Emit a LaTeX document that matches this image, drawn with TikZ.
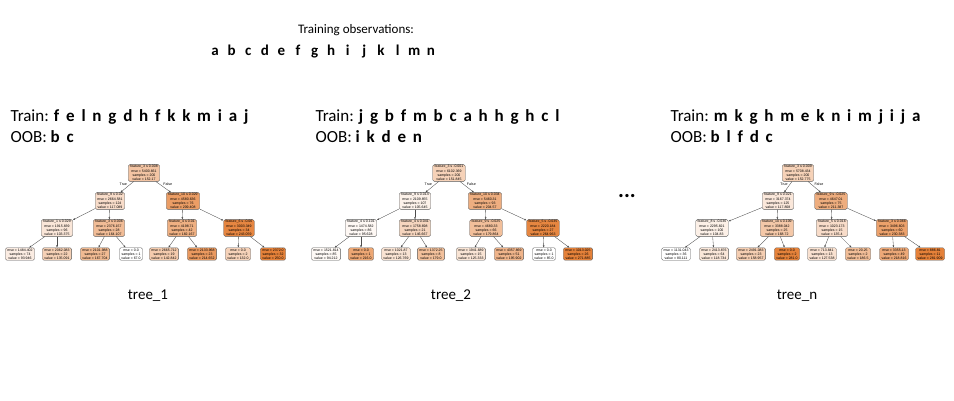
\documentclass[tikz,border=0pt]{standalone}
\usepackage{fontspec}
\setmainfont{Carlito}
\newfontfamily\treefont{Liberation Sans}
\usetikzlibrary{arrows.meta}
\definecolor{treeorange}{RGB}{229,129,57}
\newcommand{\obsl}[1]{{\bfseries\spaceskip=6.8pt\relax #1}}
\tikzset{
tnode/.style = {draw=black!65, line width=0.3pt, rounded corners=1.5pt,
                fill=treeorange!#1!white, align=center, inner xsep=2pt, inner ysep=0.8pt,
                font=\treefont\fontsize{3.5}{4.2}\selectfont},
tedge/.style = {-{Latex[length=2.2pt,width=1.8pt]}, draw=black!70, line width=0.35pt},
tlab/.style  = {font=\treefont\fontsize{3.6}{4}\selectfont, inner sep=0.5pt},
trainlbl/.style = {anchor=west, font=\fontsize{17}{20}\selectfont},
treename/.style = {font=\fontsize{15}{17}\selectfont}
}

\begin{document}
\begin{tikzpicture}[x=1pt,y=-1pt]
        \useasboundingbox (0,0) rectangle (954,400);

        % observations
        \node[font=\fontsize{13}{15}\selectfont] (title) at (356,30) {Training observations:};
        \foreach \l [count=\i from 0] in {a,b,c,d,e,f,g,h,i,j,k,l,m,n}
            \node[anchor=base, font=\bfseries\fontsize{15}{17}\selectfont] (obs-\l) at (215+16.6*\i,55) {\l};

        \node[trainlbl] (train1) at (7,117) {Train: \obsl{f e l n g d h f k k m i a j}};
        \node[trainlbl] (oob1) at (7,137) {OOB: \obsl{b c}};
        \node[trainlbl] (train2) at (312,117) {Train: \obsl{j g b f m b c a h h g h c l}};
        \node[trainlbl] (oob2) at (312,137) {OOB: \obsl{i k d e n}};
        \node[trainlbl] (train3) at (667,117) {Train: \obsl{m k g h m e k n i m j i j a}};
        \node[trainlbl] (oob3) at (667,137) {OOB: \obsl{b l f d c}};

        % tree 1
        \node[tnode=46.5] (r1) at (144,173) {feature\_3 ≤ 0.008\\mse = 5400.661\\samples = 200\\value = 152.17};
        \node[tnode=27.4] (a1) at (110,201) {feature\_9 ≤ 0.02\\mse = 2664.581\\samples = 124\\value = 117.089};
        \node[tnode=77.8] (b1) at (183,201) {feature\_10 ≤ 0.029\\mse = 4580.636\\samples = 76\\value = 209.408};
        \node[tnode=19.9] (aa1) at (57,228) {feature\_1 ≤ 0.029\\mse = 1915.839\\samples = 96\\value = 103.375};
        \node[tnode=53.1] (ab1) at (109,228) {feature\_3 ≤ 0.006\\mse = 2376.157\\samples = 28\\value = 164.107};
        \node[tnode=62.9] (ba1) at (182,228) {feature\_4 ≤ 0.01\\mse = 4198.71\\samples = 42\\value = 182.167};
        \node[tnode=96.2] (bb1) at (239,228) {feature\_6 ≤ -0.06\\mse = 3003.349\\samples = 34\\value = 243.059};
        \node[tnode=14.7] (l11) at (20,254) {mse = 1484.402\\samples = 74\\value = 93.946};
        \node[tnode=37.2] (l12) at (57,254) {mse = 2062.083\\samples = 22\\value = 135.091};
        \node[tnode=55.0] (l13) at (95,254) {mse = 2101.988\\samples = 27\\value = 167.704};
        \node[tnode=0] (l14) at (131,254) {mse = 0.0\\samples = 1\\value = 67.0};
        \node[tnode=41.4] (l15) at (164,254) {mse = 2665.712\\samples = 19\\value = 142.842};
        \node[tnode=80.7] (l16) at (202,254) {mse = 2133.968\\samples = 23\\value = 214.652};
        \node[tnode=35.5] (l17) at (238,254) {mse = 0.0\\samples = 2\\value = 132.0};
        \node[tnode=100] (l18) at (273,254) {mse = 2372.0\\samples = 32\\value = 250.0};
        \node[treename] (name1) at (148,296) {tree\_1};

        \path
        (r1) edge[tedge] node[tlab, pos=0.45, above left] {True} (a1)
        (r1) edge[tedge] node[tlab, pos=0.45, above right] {False} (b1)
        (a1) edge[tedge] (aa1)
        (a1) edge[tedge] (ab1)
        (b1) edge[tedge] (ba1)
        (b1) edge[tedge] (bb1)
        (aa1) edge[tedge] (l11)
        (aa1) edge[tedge] (l12)
        (ab1) edge[tedge] (l13)
        (ab1) edge[tedge] (l14)
        (ba1) edge[tedge] (l15)
        (ba1) edge[tedge] (l16)
        (bb1) edge[tedge] (l17)
        (bb1) edge[tedge] (l18);

        % tree 2
        \node[tnode=35.8] (r2) at (449,173) {feature\_3 ≤ -0.001\\mse = 6102.369\\samples = 200\\value = 151.845};
        \node[tnode=11.0] (a2) at (415,201) {feature\_9 ≤ 0.014\\mse = 2109.855\\samples = 107\\value = 105.645};
        \node[tnode=64.0] (b2) at (485,201) {feature\_10 ≤ 0.034\\mse = 5460.31\\samples = 93\\value = 204.57};
        \node[tnode=5.7] (aa2) at (361,228) {feature\_4 ≤ 0.101\\mse = 1474.582\\samples = 86\\value = 95.628};
        \node[tnode=33.0] (ab2) at (415,228) {feature\_4 ≤ 0.041\\mse = 1758.698\\samples = 21\\value = 146.667};
        \node[tnode=50.8] (ba2) at (486,228) {feature\_9 ≤ -0.025\\mse = 4680.33\\samples = 66\\value = 179.864};
        \node[tnode=96.3] (bb2) at (543,228) {feature\_5 ≤ -0.035\\mse = 2220.184\\samples = 27\\value = 264.963};
        \node[tnode=4.9] (l21) at (326,254) {mse = 1521.814\\samples = 85\\value = 94.212};
        \node[tnode=70.1] (l22) at (361,254) {mse = 0.0\\samples = 1\\value = 216.0};
        \node[tnode=22.3] (l23) at (396,254) {mse = 1021.87\\samples = 13\\value = 126.769};
        \node[tnode=50.3] (l24) at (431,254) {mse = 1372.25\\samples = 8\\value = 179.0};
        \node[tnode=21.6] (l25) at (471,254) {mse = 1941.689\\samples = 15\\value = 125.333};
        \node[tnode=59.3] (l26) at (509,254) {mse = 4357.869\\samples = 51\\value = 195.902};
        \node[tnode=0] (l27) at (544,254) {mse = 0.0\\samples = 1\\value = 85.0};
        \node[tnode=100] (l28) at (578,254) {mse = 1013.025\\samples = 26\\value = 271.885};
        \node[treename] (name2) at (451,296) {tree\_2};

        \path
        (r2) edge[tedge] node[tlab, pos=0.45, above left] {True} (a2)
        (r2) edge[tedge] node[tlab, pos=0.45, above right] {False} (b2)
        (a2) edge[tedge] (aa2)
        (a2) edge[tedge] (ab2)
        (b2) edge[tedge] (ba2)
        (b2) edge[tedge] (bb2)
        (aa2) edge[tedge] (l21)
        (aa2) edge[tedge] (l22)
        (ab2) edge[tedge] (l23)
        (ab2) edge[tedge] (l24)
        (ba2) edge[tedge] (l25)
        (ba2) edge[tedge] (l26)
        (bb2) edge[tedge] (l27)
        (bb2) edge[tedge] (l28);

        \node[font=\bfseries\fontsize{22}{22}\selectfont] (dots) at (627,196) {...};

        % tree n
        \node[tnode=36.0] (r3) at (798,173) {feature\_3 ≤ 0.009\\mse = 5708.434\\samples = 200\\value = 152.775};
        \node[tnode=18.7] (a3) at (778,201) {feature\_9 ≤ 0.021\\mse = 3167.374\\samples = 125\\value = 117.808};
        \node[tnode=65.1] (b3) at (831,201) {feature\_9 ≤ -0.025\\mse = 4647.01\\samples = 75\\value = 211.387};
        \node[tnode=12.2] (aa3) at (712,228) {feature\_8 ≤ -0.036\\mse = 2295.821\\samples = 100\\value = 104.83};
        \node[tnode=43.9] (ab3) at (777,228) {feature\_10 ≤ 0.109\\mse = 3388.042\\samples = 25\\value = 168.72};
        \node[tnode=27.4] (ba3) at (832,228) {feature\_5 ≤ 0.016\\mse = 1023.173\\samples = 15\\value = 135.4};
        \node[tnode=74.5] (bb3) at (892,228) {feature\_3 ≤ 0.066\\mse = 3496.603\\samples = 60\\value = 230.383};
        \node[tnode=0] (l31) at (676,254) {mse = 1131.043\\samples = 36\\value = 80.111};
        \node[tnode=19.1] (l32) at (714,254) {mse = 2413.876\\samples = 64\\value = 118.734};
        \node[tnode=39.1] (l33) at (751,254) {mse = 2491.083\\samples = 23\\value = 158.957};
        \node[tnode=99.5] (l34) at (787,254) {mse = 0.0\\samples = 2\\value = 281.0};
        \node[tnode=23.5] (l35) at (822,254) {mse = 713.841\\samples = 13\\value = 127.538};
        \node[tnode=52.7] (l36) at (858,254) {mse = 20.25\\samples = 2\\value = 186.5};
        \node[tnode=68.7] (l37) at (894,254) {mse = 3355.13\\samples = 49\\value = 218.816};
        \node[tnode=100] (l38) at (930,254) {mse = 886.81\\samples = 11\\value = 281.909};
        \node[treename] (name3) at (797,296) {tree\_n};

        \path
        (r3) edge[tedge] node[tlab, pos=0.45, above left] {True} (a3)
        (r3) edge[tedge] node[tlab, pos=0.45, above right] {False} (b3)
        (a3) edge[tedge] (aa3)
        (a3) edge[tedge] (ab3)
        (b3) edge[tedge] (ba3)
        (b3) edge[tedge] (bb3)
        (aa3) edge[tedge] (l31)
        (aa3) edge[tedge] (l32)
        (ab3) edge[tedge] (l33)
        (ab3) edge[tedge] (l34)
        (ba3) edge[tedge] (l35)
        (ba3) edge[tedge] (l36)
        (bb3) edge[tedge] (l37)
        (bb3) edge[tedge] (l38);
        \end{tikzpicture}
\end{document}
